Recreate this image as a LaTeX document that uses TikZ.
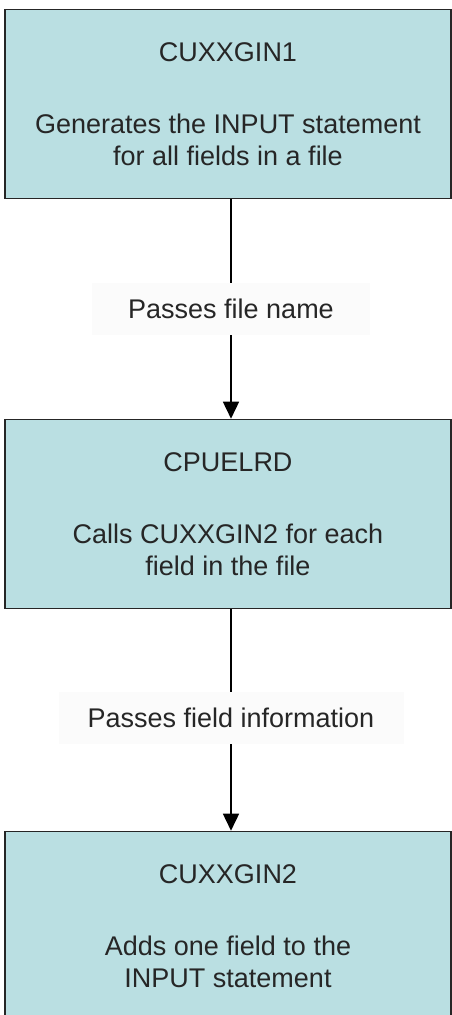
\documentclass[tikz,border=0pt]{standalone}
\usepackage{fontspec}
\setmainfont{Liberation Sans}
\usepackage{tikz}
\usetikzlibrary{arrows.meta}
\definecolor{boxfill}{RGB}{186,223,226}
\definecolor{labelfill}{RGB}{251,251,251}

\begin{document}
\begin{tikzpicture}[x=1pt, y=-1pt, >={Triangle[width=16pt,length=17pt]}]
\tikzset{prog/.style={draw=black!85, line width=1.6pt, fill=boxfill, minimum width=446pt, minimum height=189pt, align=center, text=black!85, font=\fontsize{27}{32}\selectfont, inner sep=0pt}}
\tikzset{passlabel/.style={fill=labelfill, text=black!85, font=\fontsize{27}{32}\selectfont, inner sep=0pt, minimum height=52pt}}
%\tikzset{every node/.style={draw=red}}

\useasboundingbox (0,0) rectangle (452,1015);

\node[prog] (gin1) at (228,104) {CUXXGIN1\\[40pt]Generates the INPUT statement\\for all fields in a file};
\node[prog] (elrd) at (228,514) {CPUELRD\\[40pt]Calls CUXXGIN2 for each\\field in the file};
\node[prog] (gin2) at (228,926) {CUXXGIN2\\[40pt]Adds one field to the\\INPUT statement};

\node[passlabel, minimum width=278pt] (passname) at (231,309) {Passes file name};
\node[passlabel, minimum width=345pt] (passinfo) at (231,718) {Passes field information};

\draw[line width=1.6pt] (passname |- gin1.south) -- (passname.north);
\draw[->, line width=1.6pt] (passname.south) -- (passname |- elrd.north);
\draw[line width=1.6pt] (passinfo |- elrd.south) -- (passinfo.north);
\draw[->, line width=1.6pt] (passinfo.south) -- (passinfo |- gin2.north);
\end{tikzpicture}
\end{document}
